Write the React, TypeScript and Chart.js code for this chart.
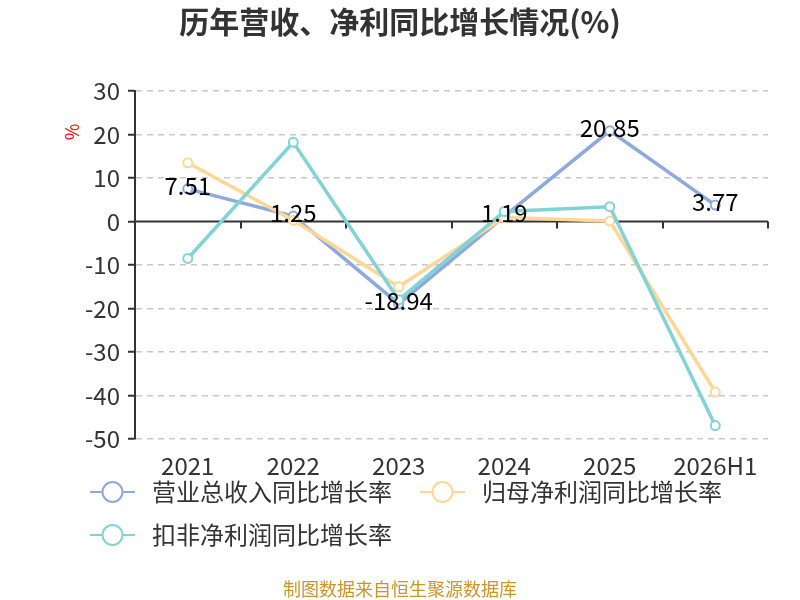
import React, { useEffect, useRef } from 'react';
import { Chart, registerables } from 'chart.js';

Chart.register(...registerables);

const years = ['2021', '2022', '2023', '2024', '2025', '2026H1'];
const revenueGrowth = [7.51, 1.25, -18.94, 1.19, 20.85, 3.77];
const parentProfitGrowth = [13.5, 0.3, -15.0, 0.9, 0.1, -39.2];
const deductedProfitGrowth = [-8.5, 18.2, -18.0, 2.3, 3.4, -46.9];
const seriesNames = ['营业总收入同比增长率', '归母净利润同比增长率', '扣非净利润同比增长率'];
const seriesColors = ['#8eaadc', '#fed796', '#81d3d7'];

const FONT = '"Noto Sans CJK SC", "Noto Sans", sans-serif';

const decorations = {
  id: 'decorations',
  beforeDatasetsDraw(chart) {
    const { ctx, chartArea } = chart;
    const y0 = chart.scales.y.getPixelForValue(0);
    const step = (chartArea.right - chartArea.left) / years.length;
    ctx.save();
    ctx.strokeStyle = '#333';
    ctx.lineWidth = 2;
    ctx.beginPath();
    ctx.moveTo(chartArea.left, y0);
    ctx.lineTo(chartArea.right, y0);
    for (let i = 1; i <= years.length; i++) {
      const x = Math.round(chartArea.left + i * step);
      ctx.moveTo(x, y0);
      ctx.lineTo(x, y0 + 7);
    }
    ctx.stroke();
    ctx.restore();
  },
  afterDatasetsDraw(chart) {
    const { ctx } = chart;
    const meta = chart.getDatasetMeta(0);
    ctx.save();
    ctx.font = `24px ${FONT}`;
    ctx.fillStyle = '#000';
    ctx.textAlign = 'center';
    ctx.textBaseline = 'middle';
    meta.data.forEach((pt, i) => {
      ctx.fillText(String(revenueGrowth[i]), pt.x, pt.y - 3);
    });
    ctx.restore();
  },
  afterDraw(chart) {
    const { ctx } = chart;
    ctx.save();
    // title
    ctx.font = `bold 30px ${FONT}`;
    ctx.fillStyle = '#333';
    ctx.textAlign = 'center';
    ctx.textBaseline = 'middle';
    ctx.fillText('历年营收、净利同比增长情况(%)', 400, 22);

    // unit label
    ctx.save();
    ctx.translate(72, 132);
    ctx.rotate(-Math.PI / 2);
    ctx.font = `18px ${FONT}`;
    ctx.fillStyle = '#ff0000';
    ctx.fillText('%', 0, 0);
    ctx.restore();

    // legend
    const items = [
      { x: 90, y: 492 },
      { x: 420, y: 492 },
      { x: 90, y: 535 },
    ];
    items.forEach((it, i) => {
      ctx.strokeStyle = seriesColors[i];
      ctx.lineWidth = 2;
      ctx.beginPath();
      ctx.moveTo(it.x, it.y);
      ctx.lineTo(it.x + 45, it.y);
      ctx.stroke();
      ctx.beginPath();
      ctx.arc(it.x + 22.5, it.y, 10, 0, Math.PI * 2);
      ctx.fillStyle = '#fff';
      ctx.fill();
      ctx.stroke();
      ctx.font = `24px ${FONT}`;
      ctx.fillStyle = '#333';
      ctx.textAlign = 'left';
      ctx.fillText(seriesNames[i], it.x + 62, it.y);
    });

    // source
    ctx.font = `18px ${FONT}`;
    ctx.fillStyle = '#c9962b';
    ctx.textAlign = 'center';
    ctx.fillText('制图数据来自恒生聚源数据库', 400, 589);
    ctx.restore();
  },
};

const App = () => {
  const canvasRef = useRef(null);

  useEffect(() => {
    document.body.style.margin = '0';
    if (!canvasRef.current) return;

    const series = [revenueGrowth, parentProfitGrowth, deductedProfitGrowth];

    const chart = new Chart(canvasRef.current, {
      type: 'line',
      data: {
        labels: years,
        datasets: series.map((values, i) => ({
          label: seriesNames[i],
          data: values,
          borderColor: seriesColors[i],
          backgroundColor: '#fff',
          pointBackgroundColor: '#fff',
          pointBorderColor: seriesColors[i],
          pointBorderWidth: 2,
          pointRadius: 4.5,
          borderWidth: 3.5,
          tension: 0,
          fill: false,
          order: 3 - i,
        })),
      },
      options: {
        responsive: false,
        animation: false,
        layout: { padding: { top: 91, right: 32, left: 0, bottom: 0 } },
        plugins: {
          legend: { display: false },
          title: { display: false },
          tooltip: { enabled: false },
        },
        scales: {
          x: {
            offset: true,
            grid: { display: false, drawTicks: false },
            border: { display: false },
            ticks: { font: { size: 24, family: FONT }, color: '#333', padding: 12 },
            afterFit: (scale) => {
              scale.height = 161;
            },
          },
          y: {
            min: -50,
            max: 30,
            ticks: { stepSize: 10, font: { size: 24, family: FONT }, color: '#333', padding: 8 },
            grid: {
              color: (c) => (c.tick && c.tick.value === 0 ? 'rgba(0,0,0,0)' : '#c8c8c8'),
              lineWidth: 1.5,
              tickColor: '#333',
              tickLength: 7,
              tickWidth: 2,
            },
            border: { display: true, color: '#333', width: 2, dash: [6, 5] },
            afterFit: (scale) => {
              scale.width = 135;
            },
          },
        },
      },
      plugins: [decorations],
    });

    return () => {
      chart.destroy();
    };
  }, []);

  return <canvas ref={canvasRef} width={800} height={600} style={{ display: 'block' }} />;
};

export default App;
